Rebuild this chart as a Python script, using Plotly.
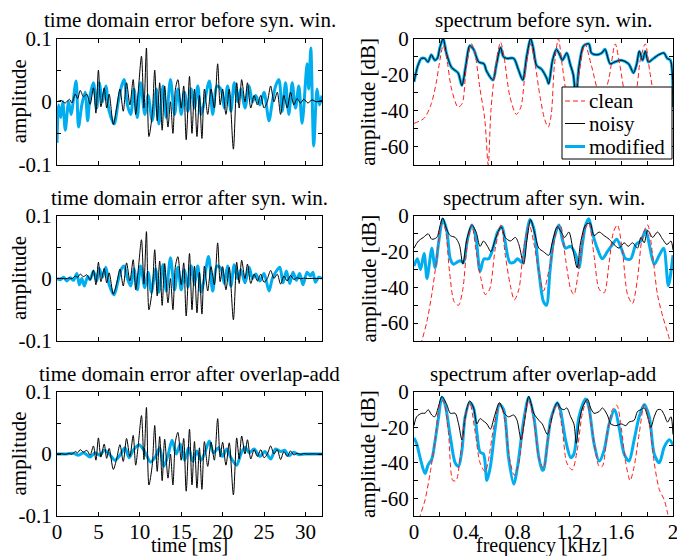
import plotly.graph_objects as go

# ---------------- data: time domain (ms, amplitude) ----------------
t_noisy = [0, 0.5, 1.0, 1.5, 1.8, 2.2, 2.5, 2.8, 3.2, 3.6,
           4.0, 4.4, 4.7, 5.0, 5.3, 5.7, 6.0, 6.3, 6.8, 7.2,
           7.6, 8.0, 8.4, 8.8, 9.2, 9.5, 9.8, 10.2, 10.5, 10.8,
           11.1, 11.5, 11.8, 12.1, 12.4, 12.7, 13.0, 13.4, 13.7, 14.0,
           14.3, 14.6, 15.0, 15.3, 15.6, 16.0, 16.3, 16.6, 16.9, 17.2,
           17.5, 17.8, 18.2, 18.6, 19.0, 19.4, 19.7, 20.0, 20.4, 20.8,
           21.3, 21.7, 22.0, 22.3, 22.7, 23.0, 23.4, 23.8, 24.2, 24.6,
           25.0, 25.4, 25.8, 26.2, 26.6, 27.0, 27.4, 27.8, 28.2, 28.6,
           29.0, 29.4, 29.8, 30.3, 30.8, 31.3, 32.0]
noisy_before = [0.0, 0.002, -0.002, 0.004, -0.002, 0.012, 0.005, 0.018, 0.008, 0.012,
                -0.004, 0.022, -0.018, 0.05, -0.008, 0.022, -0.01, 0.012, -0.036, -0.01,
                0.02, -0.015, 0.03, -0.005, 0.035, -0.02, 0.015, 0.072, -0.01, 0.085,
                -0.055, -0.02, 0.05, -0.03, 0.03, -0.045, 0.025, -0.04, 0.0, -0.05,
                0.02, 0.035, -0.01, 0.025, -0.06, 0.04, -0.05, 0.02, -0.055, 0.01,
                -0.058, 0.02, -0.02, 0.02, -0.01, 0.06, -0.005, 0.02, -0.02, 0.02,
                -0.075, 0.03, -0.01, 0.035, 0.0, 0.03, -0.01, 0.01, -0.005, 0.01,
                -0.01, 0.0, 0.025, 0.0, 0.015, -0.02, 0.01, -0.01, 0.015, -0.005,
                0.005, -0.002, 0.004, -0.002, 0.003, 0.0, 0.002]
noisy_after = [0.0, 0.0005, -0.0005, 0.001, -0.0005, 0.004, 0.002, 0.007, 0.003, 0.006,
               -0.002, 0.013, -0.01, 0.026, -0.005, 0.016, -0.007, 0.009, -0.025, -0.008,
               0.015, -0.012, 0.025, -0.004, 0.03, -0.018, 0.013, 0.062, -0.009, 0.075,
               -0.05, -0.018, 0.046, -0.028, 0.028, -0.043, 0.024, -0.039, 0.0, -0.05,
               0.02, 0.035, -0.01, 0.025, -0.06, 0.04, -0.05, 0.02, -0.055, 0.01,
               -0.057, 0.02, -0.02, 0.019, -0.01, 0.057, -0.005, 0.019, -0.018, 0.018,
               -0.066, 0.026, -0.008, 0.029, 0.0, 0.023, -0.008, 0.007, -0.004, 0.007,
               -0.006, 0.0, 0.013, 0.0, 0.007, -0.009, 0.004, -0.004, 0.005, -0.0015,
               0.0012, -0.0004, 0.0006, -0.0002, 0.0002, 0.0, 0.0]

t_mod_before = [0.0, 0.2, 0.45, 0.7, 1.0, 1.4, 1.7, 2.3, 2.6, 3.0,
                3.4, 3.7, 4.0, 4.4, 4.8, 5.1, 5.5, 5.9, 6.3, 6.9,
                7.4, 7.8, 8.1, 8.5, 8.9, 9.3, 9.7, 10.1, 10.6, 11.0,
                11.5, 12.0, 12.3, 12.8, 13.2, 13.7, 14.2, 14.6, 15.0, 15.4,
                15.8, 16.2, 16.6, 17.0, 17.4, 17.8, 18.4, 18.8, 19.3, 19.8,
                20.2, 20.6, 21.0, 21.4, 21.8, 22.2, 22.7, 23.2, 23.6, 24.0,
                24.5, 25.0, 25.6, 26.0, 26.4, 26.8, 27.2, 27.6, 28.0, 28.4,
                28.8, 29.2, 29.6, 30.2, 30.4, 30.65, 31.0, 31.4, 31.7, 32.0]
mod_before = [-0.065, -0.005, -0.025, 0.0, -0.045, 0.0, -0.02, 0.033, -0.04, -0.005,
              0.015, -0.03, 0.01, 0.03, -0.01, 0.03, 0.0, 0.025, -0.015, -0.035,
              0.0, 0.025, 0.035, -0.005, -0.02, 0.02, -0.025, 0.03, -0.02, 0.01,
              -0.03, 0.02, -0.035, 0.025, -0.025, 0.035, -0.02, 0.02, -0.02, 0.015,
              -0.015, 0.02, -0.01, 0.025, -0.02, 0.0, 0.033, -0.02, 0.025, 0.02,
              -0.01, 0.025, -0.015, 0.03, 0.0, 0.02, -0.01, 0.025, 0.0, 0.01,
              -0.005, 0.015, -0.03, 0.0, 0.025, 0.035, -0.015, 0.03, -0.02, 0.03,
              -0.01, 0.025, -0.034, 0.06, 0.02, 0.085, -0.07, 0.02, -0.005, 0.01]

t_mod_syn = [0, 0.4, 0.8, 1.2, 1.6, 2.0, 2.4, 2.7, 3.0, 3.3,
             3.7, 4.0, 4.4, 4.8, 5.1, 5.5, 5.9, 6.3, 6.9, 7.4,
             7.8, 8.1, 8.5, 8.9, 9.3, 9.7, 10.1, 10.6, 11.0, 11.4,
             11.9, 12.3, 12.8, 13.2, 13.7, 14.2, 14.6, 15.0, 15.4, 15.8,
             16.2, 16.6, 17.0, 17.4, 17.8, 18.3, 18.8, 19.3, 19.8, 20.2,
             20.6, 21.0, 21.4, 21.8, 22.2, 22.7, 23.2, 23.6, 24.0, 24.5,
             25.0, 25.6, 26.0, 26.4, 26.9, 27.3, 27.7, 28.1, 28.5, 28.9,
             29.3, 29.7, 30.2, 30.6, 30.9, 31.2, 31.6, 32.0]
mod_syn = [0.0, -0.002, 0.002, -0.004, 0.001, -0.003, 0.008, -0.01, 0.0, -0.012,
           0.003, -0.002, 0.012, -0.004, 0.016, 0.002, 0.018, -0.01, -0.026, -0.002,
           0.016, 0.02, 0.0, -0.012, 0.015, -0.018, 0.02, -0.015, 0.01, -0.022,
           0.015, -0.022, 0.022, -0.02, 0.033, -0.018, 0.018, -0.018, 0.014, -0.014,
           0.02, -0.01, 0.02, -0.022, 0.0, 0.035, -0.02, 0.02, 0.016, -0.008,
           0.02, -0.012, 0.022, 0.0, 0.014, -0.007, 0.018, 0.0, 0.007, -0.004,
           0.008, -0.02, 0.0, 0.01, 0.018, -0.007, 0.012, -0.008, 0.01, -0.003,
           0.008, -0.01, 0.01, 0.004, 0.01, -0.006, 0.002, 0.0]

t_mod_ola = [0, 1.0, 2.0, 2.6, 3.2, 4.0, 4.6, 5.2, 5.7, 6.3,
             7.0, 7.6, 8.2, 8.7, 9.2, 9.9, 10.5, 11.3, 11.9, 12.4,
             12.9, 13.4, 13.9, 14.4, 14.9, 15.4, 15.9, 16.4, 16.9, 17.4,
             17.9, 18.4, 18.9, 19.5, 20.0, 20.5, 21.0, 21.7, 22.2, 22.7,
             23.2, 23.8, 24.5, 25.1, 25.8, 26.4, 27.0, 27.5, 28.0, 28.6,
             29.2, 30.0, 32.0]
mod_ola = [0, 0.0, 0.001, -0.002, 0.002, -0.005, 0.002, -0.002, 0.006, 0.0,
           -0.01, -0.002, 0.01, -0.006, 0.006, 0.015, 0.006, -0.013, -0.004, 0.01,
           -0.02, -0.002, 0.022, 0.0, 0.016, -0.01, 0.01, -0.012, 0.005, -0.01,
           0.004, 0.021, 0.002, 0.01, -0.004, 0.008, -0.006, -0.018, 0.0, 0.011,
           0.002, 0.008, -0.004, 0.004, -0.008, 0.008, 0.004, 0.006, -0.003, 0.003,
           -0.001, 0.0, 0.0]

# ---------------- data: spectra (kHz, dB) ----------------
f_noisy_before = [0, 0.03, 0.057, 0.083, 0.108, 0.134, 0.16, 0.18, 0.2, 0.225,
                  0.25, 0.29, 0.34, 0.37, 0.4, 0.43, 0.46, 0.5, 0.54, 0.56,
                  0.61, 0.635, 0.668, 0.69, 0.715, 0.77, 0.805, 0.84, 0.87, 0.9,
                  0.92, 0.947, 0.985, 1.025, 1.04, 1.07, 1.1, 1.125, 1.146, 1.18,
                  1.205, 1.23, 1.25, 1.275, 1.31, 1.35, 1.37, 1.41, 1.45, 1.475,
                  1.515, 1.55, 1.6, 1.657, 1.695, 1.72, 1.74, 1.765, 1.786, 1.81,
                  1.85, 1.89, 1.93, 1.955, 1.98, 2.0]
noisy_before_db = [-24, -15, -11, -11, -13, -9, -12, -11, -5, 0,
                   -8, -16, -19, -26, -15, -4, -6, -13, -14, -18,
                   -23, -15, -5, -10, -11, -11, -17, -23, -10, 0,
                   -5, -15, -17, -22, -25, -12, -6, -9, -12, -8,
                   -14, -20, -33, -15, -4, -3, -8, -9, -8, -6,
                   -14, -13, -12, -14, -19, -14, -7, -12, -7, -13,
                   -11, -9, -8, -11, -12, -38]
mod_before_db = [-24, -15, -11, -11, -13, -9, -12, -11, -5, 0,
                 -8, -16, -19, -26, -15, -4, -6, -13, -14, -18,
                 -23, -15, -5, -10, -11, -11, -17, -23, -10, 0,
                 -5, -15, -17, -22, -25, -12, -6, -9, -12, -8,
                 -14, -20, -33, -15, -4, -3, -8, -9, -8, -6,
                 -14, -13, -12, -14, -19, -14, -7, -12, -7, -13,
                 -11, -9, -8, -11, -12, -38]
f_clean_before = [0, 0.08, 0.134, 0.173, 0.2, 0.225, 0.25, 0.29, 0.34, 0.372,
                  0.405, 0.445, 0.47, 0.51, 0.547, 0.573, 0.594, 0.625, 0.668, 0.695,
                  0.74, 0.79, 0.825, 0.86, 0.9, 0.93, 0.973, 1.01, 1.037, 1.06,
                  1.084, 1.115, 1.145, 1.2, 1.26, 1.32, 1.37, 1.45, 1.505, 1.554,
                  1.59, 1.65, 1.71, 1.747, 1.786, 1.82, 1.85, 1.92, 2.0]
clean_before_db = [-47, -44, -36, -24, -12, -4, -10, -28, -38, -36,
                   -15, -3, -8, -28, -45, -70, -40, -18, -2, -10,
                   -32, -42, -38, -18, -3, -12, -32, -45, -49, -42,
                   -15, 0, -15, -38, -25, -3, -15, -35, -22, -3,
                   -15, -35, -30, -12, -3, -18, -30, -45, -50]

f_noisy_syn = [0, 0.034, 0.072, 0.11, 0.137, 0.176, 0.2, 0.222, 0.25, 0.28,
               0.318, 0.35, 0.377, 0.408, 0.447, 0.48, 0.51, 0.537, 0.568, 0.594,
               0.628, 0.672, 0.705, 0.744, 0.783, 0.81, 0.847, 0.873, 0.9, 0.93,
               0.964, 1.0, 1.041, 1.067, 1.106, 1.137, 1.163, 1.196, 1.23, 1.26,
               1.286, 1.325, 1.36, 1.39, 1.43, 1.468, 1.507, 1.545, 1.584, 1.623,
               1.654, 1.687, 1.726, 1.752, 1.778, 1.804, 1.843, 1.88, 1.92, 1.953,
               1.984, 2.0]
noisy_syn_db = [-18, -14, -12, -10, -13, -12, -6, -1, -7, -11,
                -12, -16, -27, -13, -5, -9, -17, -14, -17, -20,
                -13, -6, -12, -14, -12, -16, -27, -13, -2, -9,
                -18, -20, -22, -15, -6, -9, -12, -9, -20, -29,
                -15, -5, -4, -11, -9, -11, -13, -16, -18, -15,
                -17, -15, -18, -12, -15, -8, -12, -9, -13, -16,
                -14, -19]
f_mod_syn = [0, 0.026, 0.05, 0.078, 0.1, 0.12, 0.137, 0.163, 0.19, 0.222,
             0.253, 0.28, 0.305, 0.33, 0.357, 0.382, 0.413, 0.447, 0.48, 0.51,
             0.54, 0.576, 0.61, 0.646, 0.68, 0.705, 0.74, 0.77, 0.8, 0.835,
             0.86, 0.894, 0.925, 0.964, 1.0, 1.023, 1.05, 1.08, 1.12, 1.145,
             1.17, 1.21, 1.25, 1.274, 1.3, 1.325, 1.35, 1.376, 1.415, 1.454,
             1.493, 1.532, 1.566, 1.6, 1.635, 1.674, 1.713, 1.752, 1.79, 1.817,
             1.855, 1.894, 1.928, 1.964, 2.0]
mod_syn_db = [-28, -24, -30, -21, -35, -26, -18, -29, -15, -2,
              -8, -24, -27, -26, -25, -26, -13, -5, -13, -31,
              -24, -24, -18, -9, -6, -15, -26, -26, -24, -26,
              -15, -2, -7, -31, -48, -50, -31, -13, -5, -13,
              -18, -17, -22, -29, -16, -5, -1.5, -9, -18, -24,
              -20, -16, -13, -18, -24, -24, -16, -14, -8, -16,
              -27, -22, -18, -39, -22]
f_clean_syn = [0, 0.06, 0.1, 0.137, 0.176, 0.214, 0.24, 0.274, 0.31, 0.344, 0.377,
               0.413, 0.447, 0.48, 0.517, 0.55, 0.584, 0.628, 0.672, 0.705, 0.744,
               0.775, 0.81, 0.847, 0.89, 0.925, 0.964, 1.0, 1.054, 1.106, 1.13,
               1.17, 1.21, 1.235, 1.274, 1.313, 1.35, 1.39, 1.43, 1.468, 1.507,
               1.54, 1.571, 1.61, 1.649, 1.687, 1.726, 1.765, 1.804, 1.843, 1.88,
               1.92, 1.972, 2.0]
clean_syn_db = [-85, -70, -59, -44, -24, -4, -7, -31, -48, -50, -41,
                -15, -5, -20, -35, -44, -41, -18, -5, -22, -39,
                -47, -41, -18, -5, -15, -31, -42, -26, -7, -5,
                -24, -41, -44, -29, -9, -4, -22, -41, -43, -26,
                -9, -5, -20, -44, -49, -35, -11, -5, -22, -44,
                -56, -69, -80]

f_noisy_ola = [0, 0.02, 0.06, 0.085, 0.11, 0.137, 0.16, 0.19, 0.215, 0.253,
               0.28, 0.318, 0.344, 0.37, 0.395, 0.43, 0.46, 0.486, 0.51, 0.53,
               0.563, 0.59, 0.62, 0.66, 0.697, 0.73, 0.77, 0.796, 0.827, 0.85,
               0.886, 0.925, 0.964, 0.99, 1.03, 1.054, 1.08, 1.106, 1.13, 1.158,
               1.18, 1.21, 1.235, 1.253, 1.274, 1.3, 1.34, 1.364, 1.39, 1.43,
               1.455, 1.493, 1.52, 1.558, 1.6, 1.636, 1.66, 1.7, 1.726, 1.752,
               1.778, 1.804, 1.829, 1.855, 1.881, 1.907, 1.933, 1.958, 1.984, 2.0]
noisy_ola_db = [-19, -14, -12, -12, -10, -13, -14, -8, -2.5, -7,
                -12, -12, -18, -27, -14, -5, -9, -18, -15, -16,
                -18, -21, -14, -6, -12, -14, -13, -16, -27, -18,
                -2.5, -12, -16, -18, -24, -18, -10, -6, -9, -10,
                -9, -14, -18, -29, -18, -9, -4, -9, -12, -11,
                -9, -13, -18, -19, -18, -19, -17, -16, -11, -10,
                -9, -14, -20, -14, -10, -10, -13, -17, -14, -24]
f_mod_ola = [0, 0.02, 0.047, 0.085, 0.11, 0.137, 0.16, 0.19, 0.215, 0.24,
             0.28, 0.318, 0.344, 0.37, 0.395, 0.43, 0.46, 0.486, 0.51, 0.537,
             0.563, 0.59, 0.628, 0.66, 0.693, 0.73, 0.77, 0.8, 0.847, 0.886,
             0.925, 0.964, 0.99, 1.0, 1.03, 1.054, 1.08, 1.106, 1.13, 1.17,
             1.21, 1.235, 1.274, 1.325, 1.35, 1.39, 1.43, 1.468, 1.507, 1.55,
             1.584, 1.623, 1.66, 1.7, 1.739, 1.778, 1.817, 1.855, 1.894, 1.933,
             1.972, 2.0]
mod_ola_db = [-26, -29, -37, -46, -41, -38, -29, -14, -3, -7,
              -25, -40, -42, -33, -14, -6, -9, -23, -34, -35,
              -50, -42, -20, -7, -10, -37, -52, -42, -16, -3,
              -14, -37, -44, -44, -29, -16, -10, -6, -10, -27,
              -37, -35, -14, -4, -8.5, -29, -39, -33, -18, -10,
              -20, -35, -39, -27, -14, -7, -14, -35, -40, -31,
              -27, -30]
f_clean_ola = [0, 0.047, 0.085, 0.124, 0.163, 0.2, 0.227, 0.266, 0.3, 0.325, 0.356,
               0.395, 0.43, 0.473, 0.51, 0.55, 0.576, 0.615, 0.66, 0.69, 0.744,
               0.775, 0.81, 0.847, 0.886, 0.925, 0.964, 1.0, 1.041, 1.08, 1.106,
               1.145, 1.18, 1.222, 1.26, 1.3, 1.333, 1.376, 1.43, 1.454, 1.493,
               1.532, 1.566, 1.6, 1.635, 1.669, 1.7, 1.74, 1.778, 1.817, 1.855,
               1.894, 1.933, 1.96, 2.0]
clean_ola_db = [-85, -70, -61, -46, -27, -7, -5, -23, -50, -50, -37,
                -14, -6, -23, -40, -45, -38, -20, -7, -12, -40,
                -47, -40, -18, -5, -16, -37, -43, -23, -10, -7,
                -21, -40, -44, -33, -12, -5, -22, -42, -42, -23,
                -10, -7.5, -20, -40, -50, -42, -23, -7, -18, -40,
                -55, -61, -69, -80]

# ---------------- tick labels / text ----------------
time_ticks = [0, 5, 10, 15, 20, 25, 30]
amp_ticks = [-0.1, -0.05, 0, 0.05, 0.1]
amp_labels = ['-0.1', '', '0', '', '0.1']
freq_ticks = [0, 0.2, 0.4, 0.6, 0.8, 1.0, 1.2, 1.4, 1.6, 1.8, 2.0]
freq_labels = ['0', '', '0.4', '', '0.8', '', '1.2', '', '1.6', '', '2']
db_ticks = [-60, -50, -40, -30, -20, -10, 0]
db_labels = ['-60', '', '-40', '', '-20', '', '0']
left_titles = ['time domain error before syn. win.',
               'time domain error after syn. win.',
               'time domain error after overlap-add']
right_titles = ['spectrum before syn. win.',
                'spectrum after syn. win.',
                'spectrum after overlap-add']
legend_names = ['clean', 'noisy', 'modified']

# ---------------- styling / layout ----------------
W, H = 677, 556
CYAN = '#00AEEF'
RED = '#FF1A1A'
FONT = 'Liberation Serif, Times New Roman, serif'
FS = 21

def fx(x):
    return x / W

def fy(y):
    return 1 - y / H

left_dom = [fx(57), fx(322)]
right_dom = [fx(414), fx(673)]
rows_px = [(38.5, 165), (216, 341), (392, 516)]

fig = go.Figure()

time_data = [
    (t_mod_before, mod_before, t_noisy, noisy_before),
    (t_mod_syn, mod_syn, t_noisy, noisy_after),
    (t_mod_ola, mod_ola, t_noisy, noisy_after),
]
spec_data = [
    (f_noisy_before, mod_before_db, f_noisy_before, noisy_before_db, f_clean_before, clean_before_db),
    (f_mod_syn, mod_syn_db, f_noisy_syn, noisy_syn_db, f_clean_syn, clean_syn_db),
    (f_mod_ola, mod_ola_db, f_noisy_ola, noisy_ola_db, f_clean_ola, clean_ola_db),
]

axis_common = dict(showline=True, linecolor='black', linewidth=1, mirror='ticks',
                   ticks='inside', ticklen=4, tickwidth=1, tickcolor='black',
                   showgrid=False, zeroline=False, fixedrange=True, automargin=False,
                   ticklabeloverflow='allow',
                   tickfont=dict(family=FONT, size=FS, color='black'))

style_mod = dict(color=CYAN, width=3, shape='spline', smoothing=0.8)
style_noisy = dict(color='black', width=1, shape='spline', smoothing=0.8)
style_clean = dict(color=RED, width=1, dash='5px,3px', shape='spline', smoothing=0.8)

layout_axes = {}
annotations = []
shapes = []
for r in range(3):
    top, bot = rows_px[r]
    ydom = [fy(bot), fy(top)]
    li = 2 * r + 1
    ri = 2 * r + 2
    lx = 'x' if li == 1 else f'x{li}'
    ly = 'y' if li == 1 else f'y{li}'
    rx = f'x{ri}'
    ry = f'y{ri}'
    last = (r == 2)

    layout_axes['xaxis' if li == 1 else f'xaxis{li}'] = dict(
        axis_common, domain=left_dom, anchor=ly, range=[0, 32],
        tickvals=time_ticks, ticktext=[str(v) for v in time_ticks],
        showticklabels=last, ticklabelstandoff=-3)
    layout_axes['yaxis' if li == 1 else f'yaxis{li}'] = dict(
        axis_common, domain=ydom, anchor=lx, range=[-0.1, 0.1],
        tickvals=amp_ticks, ticktext=amp_labels)
    layout_axes[f'xaxis{ri}'] = dict(
        axis_common, domain=right_dom, anchor=ry, range=[0, 2],
        tickvals=freq_ticks, ticktext=freq_labels, showticklabels=last,
        ticklabelstandoff=-3)
    layout_axes[f'yaxis{ri}'] = dict(
        axis_common, domain=ydom, anchor=rx, range=[-70, 0],
        tickvals=db_ticks, ticktext=db_labels)

    tm, vm, tn, vn = time_data[r]
    fig.add_trace(go.Scatter(x=tm, y=vm, mode='lines', xaxis=lx, yaxis=ly,
                             line=style_mod, showlegend=False, hoverinfo='skip'))
    fig.add_trace(go.Scatter(x=tn, y=vn, mode='lines', xaxis=lx, yaxis=ly,
                             line=style_noisy, showlegend=False, hoverinfo='skip'))

    fm, dm, fn, dn, fc, dc = spec_data[r]
    fig.add_trace(go.Scatter(x=fm, y=dm, mode='lines', xaxis=rx, yaxis=ry, name='modified',
                             line=style_mod, showlegend=False, hoverinfo='skip'))
    fig.add_trace(go.Scatter(x=fn, y=dn, mode='lines', xaxis=rx, yaxis=ry, name='noisy',
                             line=style_noisy, showlegend=False, hoverinfo='skip'))
    fig.add_trace(go.Scatter(x=fc, y=dc, mode='lines', xaxis=rx, yaxis=ry, name='clean',
                             line=style_clean, showlegend=False, hoverinfo='skip'))

    tcy = top - 18.5
    for txt, xc in ((left_titles[r], 189.5), (right_titles[r], 543.5)):
        annotations.append(dict(text=txt, x=fx(xc), y=fy(tcy), xref='paper', yref='paper',
                                xanchor='center', yanchor='middle', showarrow=False,
                                font=dict(family=FONT, size=FS, color='black')))
    cy = (top + bot) / 2
    for txt, xc in (('amplitude', 18.5), ('amplitude [dB]', 368)):
        annotations.append(dict(text=txt, x=fx(xc), y=fy(cy), xref='paper', yref='paper',
                                xanchor='center', yanchor='middle', showarrow=False, textangle=-90,
                                font=dict(family=FONT, size=FS, color='black')))

for txt, xc in (('time [ms]', 189), ('frequency [kHz]', 542)):
    annotations.append(dict(text=txt, x=fx(xc), y=fy(545), xref='paper', yref='paper',
                            xanchor='center', yanchor='middle', showarrow=False,
                            font=dict(family=FONT, size=20, color='black')))

# legend box (drawn in the top-right panel, MATLAB style)
shapes.append(dict(type='rect', xref='paper', yref='paper', layer='above',
                   x0=fx(562), x1=fx(672), y0=fy(159), y1=fy(87),
                   line=dict(color='black', width=1), fillcolor='white'))
legend_styles = [(RED, 1, '5px,3px'), ('black', 1, 'solid'), (CYAN, 3, 'solid')]
legend_rows = [101, 123.5, 146.5]
for name, (col, wd, ds), ly_px in zip(legend_names, legend_styles, legend_rows):
    shapes.append(dict(type='line', xref='paper', yref='paper', layer='above',
                       x0=fx(565), x1=fx(585), y0=fy(ly_px), y1=fy(ly_px),
                       line=dict(color=col, width=wd, dash=ds)))
    annotations.append(dict(text=name, x=fx(587), y=fy(ly_px), xref='paper', yref='paper',
                            xanchor='left', yanchor='middle', showarrow=False,
                            font=dict(family=FONT, size=FS, color='black')))

fig.update_layout(
    width=W, height=H, autosize=False,
    margin=dict(l=0, r=0, t=0, b=0, pad=0),
    paper_bgcolor='white', plot_bgcolor='white',
    font=dict(family=FONT, size=FS, color='black'),
    annotations=annotations,
    shapes=shapes,
    showlegend=False,
    **layout_axes,
)

fig.write_html('out.html', config={'displayModeBar': False},
               post_script="document.body.style.margin='0px';document.body.style.overflow='hidden';")
